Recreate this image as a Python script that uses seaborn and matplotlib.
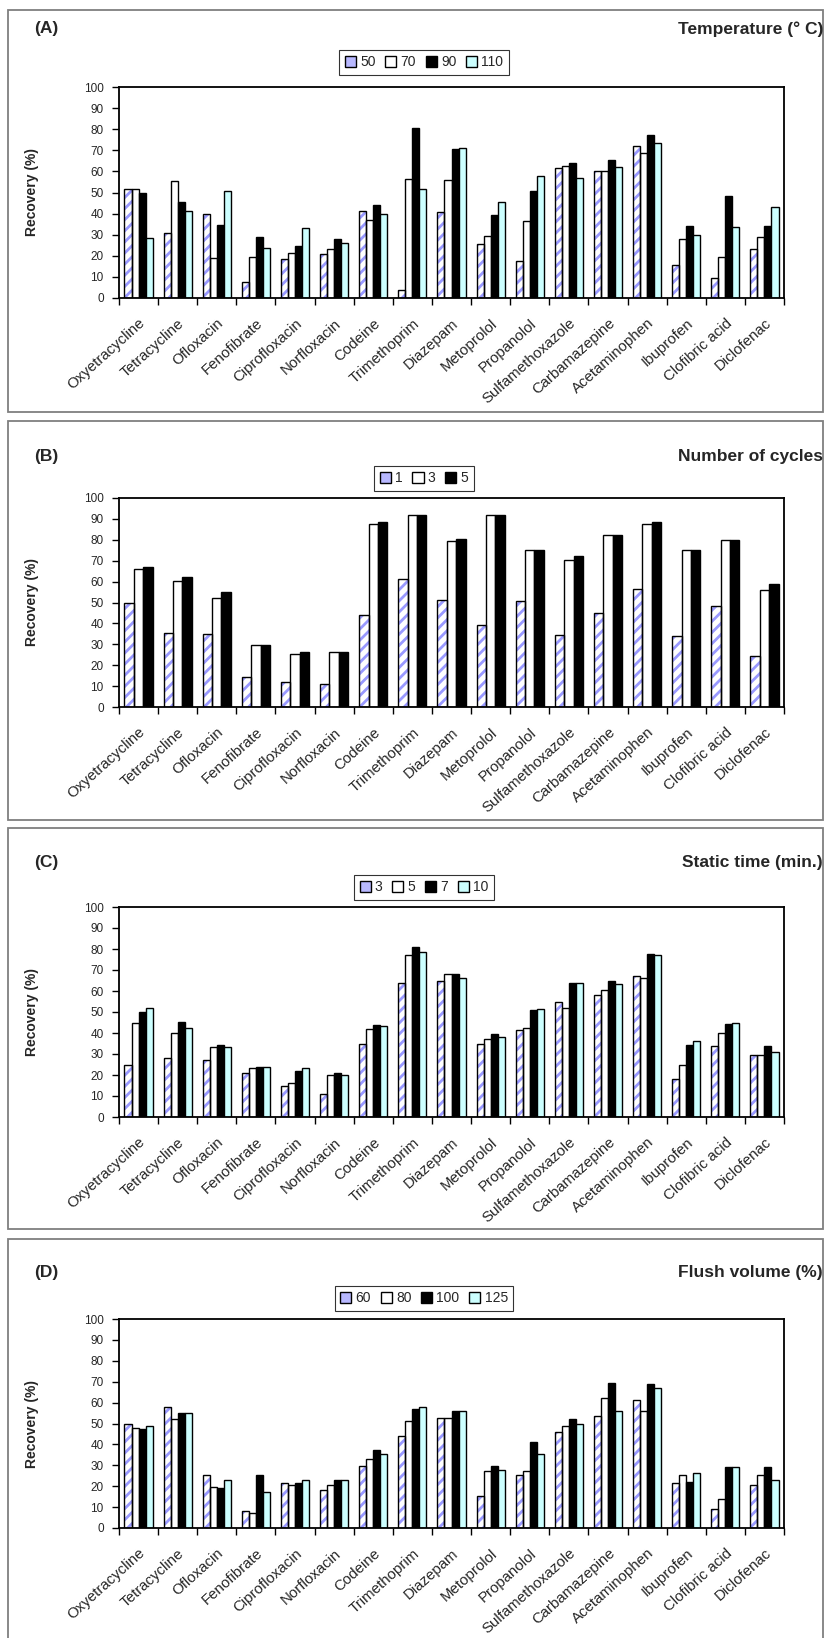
import numpy as np
import pandas as pd
import matplotlib
matplotlib.use("Agg")
import matplotlib.pyplot as plt
import matplotlib.transforms as mtransforms
import seaborn as sns
from matplotlib.patches import Rectangle, Patch

# Compounds on the x axis (same order in every panel)
compounds = ["Oxyetracycline", "Tetracycline", "Ofloxacin", "Fenofibrate",
             "Ciprofloxacin", "Norfloxacin", "Codeine", "Trimethoprim",
             "Diazepam", "Metoprolol", "Propanolol", "Sulfamethoxazole",
             "Carbamazepine", "Acetaminophen", "Ibuprofen", "Clofibric acid",
             "Diclofenac"]

# (A) Temperature (° C)
temp_levels = ["50", "70", "90", "110"]
temp_50 = [51.5, 30.8, 39.8, 7.7, 18.5, 20.9, 41.0, 3.6, 40.6, 25.8, 17.7, 61.5, 60.2, 71.9, 15.5, 9.6, 23.1]
temp_70 = [51.5, 55.3, 19.0, 19.4, 21.3, 23.0, 37.0, 56.4, 56.0, 29.5, 36.7, 62.4, 60.2, 68.7, 28.1, 19.6, 29.1]
temp_90 = [49.8, 45.3, 34.6, 28.8, 24.6, 28.1, 43.9, 80.6, 70.5, 39.5, 50.9, 63.8, 65.2, 77.4, 34.1, 48.5, 34.1]
temp_110 = [28.4, 41.0, 50.7, 23.5, 33.0, 26.2, 39.8, 51.5, 70.9, 45.7, 57.8, 56.9, 61.9, 73.6, 29.9, 33.5, 43.0]

# (B) Number of cycles
cycle_levels = ["1", "3", "5"]
cycles_1 = [49.9, 35.4, 34.7, 14.2, 12.0, 11.0, 44.0, 61.3, 51.4, 39.4, 50.9, 34.4, 45.0, 56.6, 34.2, 48.5, 24.3]
cycles_3 = [65.9, 60.5, 52.2, 29.9, 25.3, 26.1, 87.4, 91.8, 79.2, 91.8, 74.9, 70.4, 82.2, 87.4, 74.9, 79.8, 55.8]
cycles_5 = [67.0, 62.4, 55.2, 29.9, 26.4, 26.4, 88.3, 91.8, 80.2, 91.8, 74.9, 72.3, 82.2, 88.3, 74.9, 79.8, 59.0]

# (C) Static time (min.)
static_levels = ["3", "5", "7", "10"]
static_3 = [25.0, 28.1, 27.2, 20.8, 14.9, 10.8, 34.8, 63.9, 64.7, 35.0, 41.3, 54.8, 58.0, 67.1, 18.1, 34.0, 29.7]
static_5 = [45.0, 40.1, 33.1, 23.2, 16.2, 19.9, 42.1, 77.1, 67.9, 37.0, 42.3, 52.0, 60.3, 66.1, 25.0, 39.9, 29.7]
static_7 = [50.1, 45.2, 34.5, 24.0, 21.9, 20.8, 44.0, 80.9, 67.9, 39.6, 50.9, 63.9, 65.0, 77.6, 34.2, 44.2, 34.0]
static_10 = [52.1, 42.3, 33.1, 24.0, 23.2, 19.9, 43.1, 78.4, 66.1, 38.0, 51.4, 63.9, 63.1, 77.1, 36.2, 45.0, 30.8]

# (D) Flush volume (%)
flush_levels = ["60", "80", "100", "125"]
flush_60 = [49.8, 57.8, 25.4, 8.2, 21.7, 18.2, 29.8, 43.9, 52.8, 15.4, 25.4, 46.0, 53.7, 61.2, 21.7, 9.0, 20.8]
flush_80 = [48.0, 52.0, 19.8, 7.1, 20.8, 20.8, 33.0, 51.0, 52.8, 27.1, 27.1, 48.8, 62.0, 56.1, 25.5, 13.9, 25.5]
flush_100 = [47.2, 55.2, 19.0, 25.5, 21.6, 23.1, 37.1, 56.7, 56.1, 29.5, 41.2, 52.1, 69.4, 68.8, 22.0, 29.0, 29.0]
flush_125 = [48.8, 55.0, 23.0, 17.3, 23.0, 23.1, 35.2, 57.8, 55.9, 27.9, 35.2, 49.8, 55.9, 66.9, 26.1, 29.0, 23.0]

# Series styling: hatched, white, black, light cyan
HATCH_COLOR = "#9999ff"
fills = ["white", "white", "black", "#ccffff"]

sns.set_theme(style="white")
plt.rcParams["font.family"] = ["Liberation Sans", "DejaVu Sans"]
plt.rcParams["hatch.linewidth"] = 2.0

W, H = 829, 1638
fig = plt.figure(figsize=(W / 100, H / 100), dpi=100)


def fx(px):
    return px / W


def fy(py):
    return 1 - py / H


panels = [
    dict(tag="(A)", title="Temperature (° C)", levels=temp_levels,
         series=[temp_50, temp_70, temp_90, temp_110],
         box=(10, 412), title_y=29, legend_gap=12, plot=(87, 298)),
    dict(tag="(B)", title="Number of cycles", levels=cycle_levels,
         series=[cycles_1, cycles_3, cycles_5],
         box=(421, 820), title_y=456, legend_gap=7, plot=(498, 707)),
    dict(tag="(C)", title="Static time (min.)", levels=static_levels,
         series=[static_3, static_5, static_7, static_10],
         box=(828, 1229), title_y=862, legend_gap=7, plot=(907, 1117)),
    dict(tag="(D)", title="Flush volume (%)", levels=flush_levels,
         series=[flush_60, flush_80, flush_100, flush_125],
         box=(1239, 1645), title_y=1272, legend_gap=8, plot=(1319, 1528)),
]

PLOT_L, PLOT_R = 119, 784
LEG_CX = 424

# Nudge for the slanted category labels (down-left along the text)
label_shift = mtransforms.ScaledTranslation(-6 / 100, -6 / 100, fig.dpi_scale_trans)

for p in panels:
    # Panel frame
    top, bot = p["box"]
    fig.add_artist(Rectangle((fx(8), fy(bot)), fx(823) - fx(8), fy(top) - fy(bot),
                             transform=fig.transFigure, fill=False,
                             edgecolor="#7f7f7f", lw=1.3))
    fig.text(fx(34), fy(p["title_y"]), p["tag"], fontsize=12.5, fontweight="bold",
             ha="left", va="center")
    fig.text(fx(823), fy(p["title_y"]), p["title"], fontsize=12.5, fontweight="bold",
             ha="right", va="center")

    ptop, pbot = p["plot"]
    ax = fig.add_axes([fx(PLOT_L), fy(pbot), fx(PLOT_R) - fx(PLOT_L), fy(ptop) - fy(pbot)])

    levels = p["levels"]
    df = pd.concat([
        pd.DataFrame({"compound": compounds, "level": lvl, "recovery": vals})
        for lvl, vals in zip(levels, p["series"])
    ], ignore_index=True)
    pal = {lvl: fills[i] for i, lvl in enumerate(levels)}

    sns.barplot(data=df, x="compound", y="recovery", hue="level",
                order=compounds, hue_order=levels, palette=pal,
                saturation=1, edgecolor="black", linewidth=1.0,
                width=0.72, gap=0, errorbar=None, legend=False, ax=ax)

    # First series: blue diagonal stripes inside a black outline
    for bar in ax.containers[0]:
        bar.set_hatch("///")
        bar.set_edgecolor(HATCH_COLOR)
        bar.set_linewidth(0)
        ax.add_patch(Rectangle(bar.get_xy(), bar.get_width(), bar.get_height(),
                               fill=False, edgecolor="black", lw=1.0,
                               zorder=bar.get_zorder() + 0.1))

    ax.set_ylim(0, 100)
    ax.set_xlim(-0.5, len(compounds) - 0.5)
    ax.set_yticks(np.arange(0, 101, 10))
    ax.tick_params(axis="y", labelsize=8.5, length=5, width=1, direction="out",
                   pad=6, color="black", left=True)
    # Ticks on group boundaries, labels on group centers
    ax.set_xticks(np.arange(-0.5, len(compounds), 1))
    ax.set_xticklabels([])
    ax.set_xticks(np.arange(len(compounds)), minor=True)
    ax.set_xticklabels(compounds, minor=True, rotation=42, ha="right",
                       rotation_mode="anchor", fontsize=10.8)
    for lbl in ax.get_xticklabels(minor=True):
        lbl.set_transform(lbl.get_transform() + label_shift)
    ax.tick_params(axis="x", which="major", length=5, width=1, direction="out",
                   color="black", bottom=True)
    ax.tick_params(axis="x", which="minor", length=0, pad=13)
    ax.set_xlabel("")
    ax.set_ylabel("Recovery (%)", fontsize=10, fontweight="bold", labelpad=32)
    for s in ax.spines.values():
        s.set_visible(True)
        s.set_color("black")
        s.set_linewidth(1.3)
    ax.set_facecolor("white")

    # Legend above the plot
    handles = []
    for i, lvl in enumerate(levels):
        if i == 0:
            handles.append(Patch(facecolor="#b8b8ff", edgecolor="black", lw=1.0))
        else:
            handles.append(Patch(facecolor=fills[i], edgecolor="black", lw=1.0))
    ax_h = pbot - ptop
    leg = ax.legend(handles, levels, ncol=len(levels), loc="lower center",
                    bbox_to_anchor=((LEG_CX - PLOT_L) / (PLOT_R - PLOT_L), 1 + p["legend_gap"] / ax_h),
                    frameon=True, fancybox=False, edgecolor="black", fontsize=10,
                    handlelength=0.8, handleheight=0.8, handletextpad=0.3,
                    columnspacing=0.7, borderpad=0.4, borderaxespad=0)
    leg.get_frame().set_linewidth(0.8)

fig.savefig("out.png", dpi=100, facecolor="white")
